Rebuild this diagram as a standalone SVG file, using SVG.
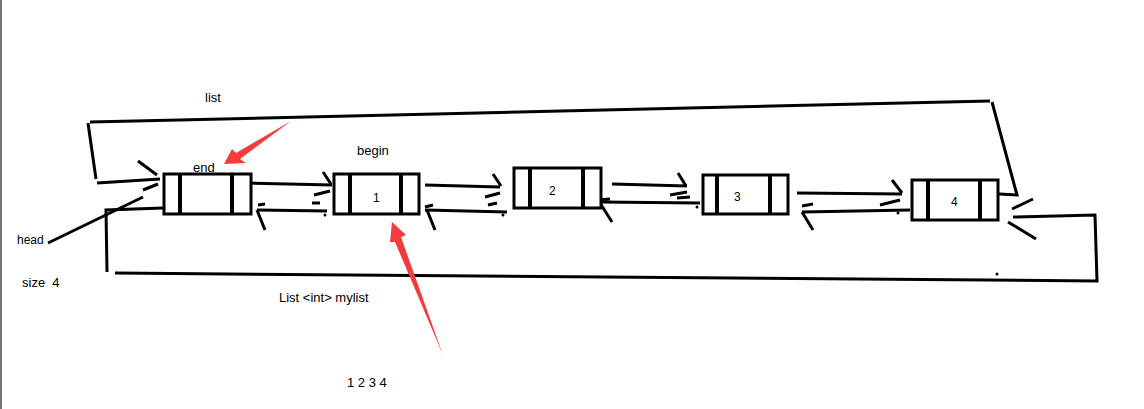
<svg xmlns="http://www.w3.org/2000/svg" width="1144" height="409" viewBox="0 0 1144 409">
<style>
.ln{stroke:#000;stroke-width:3;fill:none;stroke-linecap:butt}
.bx{stroke:#000;stroke-width:3;fill:#fff}
.dv{stroke:#000;stroke-width:4}
.t{font-family:"Liberation Sans",Arial,sans-serif;font-size:13px;fill:#000}
.n{font-family:"Liberation Sans",Arial,sans-serif;font-size:12px;fill:#000}
.red{fill:#f33d3d;stroke:none}
</style>
<rect x="0" y="0" width="1144" height="409" fill="#fff"/>
<line x1="1" y1="0" x2="1" y2="409" stroke="#786f78" stroke-width="2"/>

<g id="connectors">
  <!-- outer list frame -->
  <path class="ln" d="M90,122 L990,101"/>
  <path class="ln" d="M88,123 L96,179"/>
  <path class="ln" d="M992,102 L1017,195 L999,194"/>
  <path class="ln" d="M97,183 L160,179"/>
  <path class="ln" d="M138,161 L157,175"/>
  <path class="ln" d="M143,190 L158,184"/>
  <!-- head loop -->
  <path class="ln" d="M163,208 L106,210 L107,272"/>
  <path class="ln" d="M115,273 L1097,281 L1095,215 L1013,217"/>
  <path class="ln" d="M1012,209 L1033,199"/>
  <path class="ln" d="M1008,222 L1036,239"/>
  <circle cx="997" cy="274" r="1.5"/>
  <!-- gap 0-1 -->
  <path class="ln" d="M247,183 L332,185"/>
  <path class="ln" d="M323,172 L331,184"/>
  <path class="ln" d="M314,195 L330,191"/>
  <path class="ln" d="M257,210 L327,211"/>
  <path class="ln" d="M258,205 L265,204"/>
  <path class="ln" d="M257,210 L265,230"/>
  <path class="ln" d="M312,203 L320,203"/>
  <circle cx="325" cy="215" r="1.5"/>
  <!-- gap 1-2 -->
  <path class="ln" d="M425,185 L500,187"/>
  <path class="ln" d="M493,174 L501,186"/>
  <path class="ln" d="M485,197 L500,193"/>
  <path class="ln" d="M488,205 L497,203"/>
  <path class="ln" d="M425,210 L507,212"/>
  <path class="ln" d="M425,207 L433,205"/>
  <path class="ln" d="M427,210 L435,230"/>
  <circle cx="503" cy="215" r="1.5"/>
  <!-- gap 2-3 -->
  <path class="ln" d="M612,184 L687,186"/>
  <path class="ln" d="M678,173 L686,186"/>
  <path class="ln" d="M670,195 L687,192"/>
  <path class="ln" d="M677,198 L690,197"/>
  <path class="ln" d="M600,202 L700,203"/>
  <path class="ln" d="M598,200 L610,199"/>
  <path class="ln" d="M600,203 L612,222"/>
  <circle cx="697" cy="207" r="1.5"/>
  <!-- gap 3-4 -->
  <path class="ln" d="M797,193 L902,194"/>
  <path class="ln" d="M892,180 L902,193"/>
  <path class="ln" d="M880,205 L900,200"/>
  <path class="ln" d="M802,212 L910,210"/>
  <path class="ln" d="M802,206 L813,204"/>
  <path class="ln" d="M802,212 L813,230"/>
  <circle cx="898" cy="213" r="1.5"/>
  <!-- head pointer -->
  <path class="ln" d="M48,243 L143,197"/>
  <!-- red arrows -->
  <path class="red" d="M224,164 L232,149 L236,153 L291,121 L240,159 L246,163 Z"/>
  <path class="red" d="M392,222 L406,235 L401,237 L443,355 L395,242 L390,242 Z"/>
</g>

<g id="node-head">
  <rect class="bx" x="164" y="174" width="87" height="40"/>
  <line class="dv" x1="180" y1="174" x2="180" y2="214"/>
  <line class="dv" x1="232" y1="174" x2="232" y2="214"/>
</g>
<g id="node-1">
  <rect class="bx" x="334" y="174" width="85" height="40"/>
  <line class="dv" x1="350" y1="174" x2="350" y2="214"/>
  <line class="dv" x1="401" y1="174" x2="401" y2="214"/>
  <text class="n" x="373" y="202">1</text>
</g>
<g id="node-2">
  <rect class="bx" x="514" y="168" width="87" height="40"/>
  <line class="dv" x1="530" y1="168" x2="530" y2="208"/>
  <line class="dv" x1="583" y1="168" x2="583" y2="208"/>
  <text class="n" x="549" y="195">2</text>
</g>
<g id="node-3">
  <rect class="bx" x="703" y="175" width="85" height="39"/>
  <line class="dv" x1="717" y1="175" x2="717" y2="214"/>
  <line class="dv" x1="770" y1="175" x2="770" y2="214"/>
  <text class="n" x="734" y="201">3</text>
</g>
<g id="node-4">
  <rect class="bx" x="912" y="180" width="86" height="40"/>
  <line class="dv" x1="928" y1="180" x2="928" y2="220"/>
  <line class="dv" x1="980" y1="180" x2="980" y2="220"/>
  <text class="n" x="951" y="206">4</text>
</g>

<g id="labels">
  <text class="t" x="205" y="102">list</text>
  <text class="t" x="193" y="172">end</text>
  <text class="t" x="357" y="155">begin</text>
  <text class="n" x="17" y="244">head</text>
  <text class="t" x="22" y="287" xml:space="preserve">size  4</text>
  <text class="t" x="279" y="302">List &lt;int&gt; mylist</text>
  <text class="t" x="347" y="387">1 2 3 4</text>
</g>
</svg>
